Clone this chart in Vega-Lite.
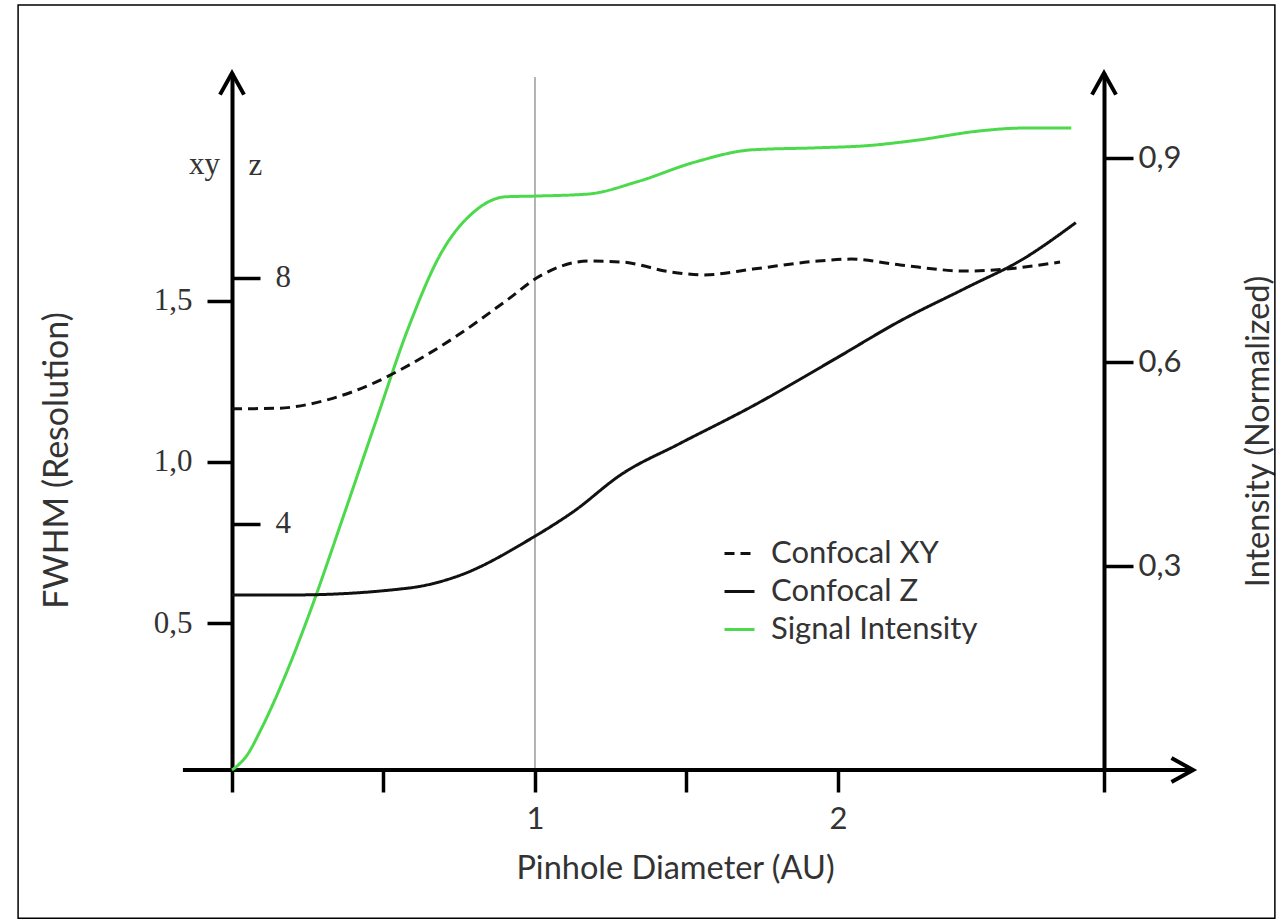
{
  "$schema": "https://vega.github.io/schema/vega-lite/v6.json",
  "width": 872,
  "height": 697,
  "autosize": {"type": "none"},
  "padding": {"left": 232, "top": 73, "right": 179, "bottom": 151},
  "background": "white",
  "config": {"view": {"stroke": null}, "font": "Lato", "axis": {"grid": false}},
  "datasets": {
    "intensity": [
      {"x": 0, "y": 0, "series": "Signal Intensity"},
      {"x": 0.05, "y": 0.022, "series": "Signal Intensity"},
      {"x": 0.096, "y": 0.06, "series": "Signal Intensity"},
      {"x": 0.175, "y": 0.138, "series": "Signal Intensity"},
      {"x": 0.257, "y": 0.232, "series": "Signal Intensity"},
      {"x": 0.366, "y": 0.371, "series": "Signal Intensity"},
      {"x": 0.472, "y": 0.509, "series": "Signal Intensity"},
      {"x": 0.581, "y": 0.649, "series": "Signal Intensity"},
      {"x": 0.69, "y": 0.76, "series": "Signal Intensity"},
      {"x": 0.799, "y": 0.821, "series": "Signal Intensity"},
      {"x": 0.904, "y": 0.843, "series": "Signal Intensity"},
      {"x": 1.0, "y": 0.844, "series": "Signal Intensity"},
      {"x": 1.175, "y": 0.847, "series": "Signal Intensity"},
      {"x": 1.337, "y": 0.865, "series": "Signal Intensity"},
      {"x": 1.528, "y": 0.894, "series": "Signal Intensity"},
      {"x": 1.716, "y": 0.912, "series": "Signal Intensity"},
      {"x": 1.931, "y": 0.915, "series": "Signal Intensity"},
      {"x": 2.092, "y": 0.918, "series": "Signal Intensity"},
      {"x": 2.257, "y": 0.926, "series": "Signal Intensity"},
      {"x": 2.472, "y": 0.94, "series": "Signal Intensity"},
      {"x": 2.607, "y": 0.944, "series": "Signal Intensity"},
      {"x": 2.77, "y": 0.944, "series": "Signal Intensity"}
    ],
    "xy": [
      {"x": 0, "y": 1.165, "series": "Confocal XY"},
      {"x": 0.152, "y": 1.167, "series": "Confocal XY"},
      {"x": 0.314, "y": 1.193, "series": "Confocal XY"},
      {"x": 0.475, "y": 1.248, "series": "Confocal XY"},
      {"x": 0.584, "y": 1.301, "series": "Confocal XY"},
      {"x": 0.746, "y": 1.394, "series": "Confocal XY"},
      {"x": 0.908, "y": 1.503, "series": "Confocal XY"},
      {"x": 1.017, "y": 1.578, "series": "Confocal XY"},
      {"x": 1.178, "y": 1.624, "series": "Confocal XY"},
      {"x": 1.287, "y": 1.621, "series": "Confocal XY"},
      {"x": 1.449, "y": 1.59, "series": "Confocal XY"},
      {"x": 1.558, "y": 1.581, "series": "Confocal XY"},
      {"x": 1.719, "y": 1.599, "series": "Confocal XY"},
      {"x": 1.934, "y": 1.624, "series": "Confocal XY"},
      {"x": 2.043, "y": 1.63, "series": "Confocal XY"},
      {"x": 2.205, "y": 1.612, "series": "Confocal XY"},
      {"x": 2.422, "y": 1.593, "series": "Confocal XY"},
      {"x": 2.584, "y": 1.602, "series": "Confocal XY"},
      {"x": 2.733, "y": 1.621, "series": "Confocal XY"}
    ],
    "z": [
      {"x": 0, "y": 2.846, "series": "Confocal Z"},
      {"x": 0.2, "y": 2.846, "series": "Confocal Z"},
      {"x": 0.584, "y": 2.959, "series": "Confocal Z"},
      {"x": 0.746, "y": 3.154, "series": "Confocal Z"},
      {"x": 0.99, "y": 3.772, "series": "Confocal Z"},
      {"x": 1.125, "y": 4.195, "series": "Confocal Z"},
      {"x": 1.287, "y": 4.813, "series": "Confocal Z"},
      {"x": 1.475, "y": 5.301, "series": "Confocal Z"},
      {"x": 1.719, "y": 5.919, "series": "Confocal Z"},
      {"x": 1.99, "y": 6.683, "series": "Confocal Z"},
      {"x": 2.205, "y": 7.301, "series": "Confocal Z"},
      {"x": 2.422, "y": 7.837, "series": "Confocal Z"},
      {"x": 2.611, "y": 8.309, "series": "Confocal Z"},
      {"x": 2.785, "y": 8.9, "series": "Confocal Z"}
    ]
  },
  "encoding": {
    "x": {
      "field": "x",
      "type": "quantitative",
      "scale": {"domain": [0, 2.878], "nice": false, "zero": false},
      "axis": {
        "orient": "bottom",
        "values": [0, 0.5, 1, 1.5, 2, 2.878],
        "domain": false,
        "ticks": true,
        "tickSize": 22,
        "tickWidth": 3.5,
        "tickColor": "#000",
        "labelExpr": "datum.value == 1 ? '1' : (datum.value == 2 ? '2' : '')",
        "labelOverlap": false,
        "labelFlush": false,
        "labelFont": "Lato",
        "labelFontSize": 31,
        "labelColor": "#333",
        "labelPadding": 12,
        "title": "Pinhole Diameter (AU)",
        "titleFont": "Lato",
        "titleFontSize": 32.5,
        "titleFontWeight": "normal",
        "titleColor": "#333",
        "titleX": 443,
        "titleY": 98,
        "titleAlign": "center",
        "titleBaseline": "middle"
      }
    }
  },
  "layer": [
    {
      "encoding": {
        "y": {
          "field": "y",
          "type": "quantitative",
          "scale": {"domain": [0, 1.025], "nice": false, "zero": false},
          "axis": {
            "orient": "right",
            "values": [0.3, 0.6, 0.9],
            "domain": true,
            "domainWidth": 4,
            "domainColor": "#000",
            "tickSize": 29,
            "tickWidth": 3.5,
            "tickColor": "#000",
            "labelExpr": "replace(format(datum.value, '.1f'), '.', ',')",
            "labelFont": "Lato",
            "labelFontSize": 31,
            "labelColor": "#333",
            "labelPadding": 5,
            "title": "Intensity (Normalized)",
            "titleFont": "Lato",
            "titleFontSize": 32.5,
            "titleFontWeight": "normal",
            "titleColor": "#333",
            "titleAngle": 270,
            "titleX": 154,
            "titleY": 358,
            "titleAlign": "center",
            "titleBaseline": "middle"
          }
        }
      },
      "layer": [
        {
          "data": {"values": [{"x": -0.706, "x2": 3.442, "y": -0.218, "y2": 1.125}]},
          "mark": {"type": "rect", "fillOpacity": 0, "stroke": "#000", "strokeWidth": 1.5},
          "encoding": {"x2": {"field": "x2"}, "y2": {"field": "y2"}}
        },
        {
          "data": {"values": [{"x": 1, "y": 0, "y2": 1.019}]},
          "mark": {"type": "rule", "color": "#9a9a9a", "strokeWidth": 1.5},
          "encoding": {"y2": {"field": "y2"}}
        },
        {
          "data": {"values": [{"x": -0.162, "x2": 3.16, "y": 0}]},
          "mark": {"type": "rule", "color": "#000", "strokeWidth": 4},
          "encoding": {"x2": {"field": "x2"}}
        },
        {
          "data": {"values": [{"x": 0, "y": 1.025}, {"x": 2.878, "y": 1.025}]},
          "mark": {"type": "point", "shape": "M -1 1.8 L 0 0 L 1 1.8", "filled": false, "stroke": "#000", "strokeWidth": 4, "size": 576, "opacity": 1}
        },
        {
          "data": {"values": [{"x": 3.172, "y": 0}]},
          "mark": {"type": "point", "shape": "M -1.8 -1 L 0 0 L -1.8 1", "filled": false, "stroke": "#000", "strokeWidth": 4, "size": 576, "opacity": 1}
        },
        {
          "data": {"name": "intensity"},
          "mark": {"type": "line", "interpolate": "monotone", "strokeWidth": 3},
          "encoding": {
            "color": {
              "field": "series", "type": "nominal",
              "scale": {"domain": ["Confocal XY", "Confocal Z", "Signal Intensity"], "range": ["#111", "#111", "#4cd94c"]},
              "legend": {"orient": "none", "legendX": 491, "legendY": 464, "title": null, "symbolType": "stroke", "symbolSize": 900, "symbolStrokeWidth": 3, "labelFont": "Lato", "labelFontSize": 31, "labelColor": "#333", "labelOffset": 15, "labelLimit": 0, "rowPadding": 6}
            },
            "strokeDash": {
              "field": "series", "type": "nominal",
              "scale": {"domain": ["Confocal XY", "Confocal Z", "Signal Intensity"], "range": [[10, 6], [1, 0], [1, 0]]},
              "legend": {"orient": "none", "legendX": 491, "legendY": 464, "title": null, "symbolType": "stroke", "symbolSize": 900, "symbolStrokeWidth": 3, "labelFont": "Lato", "labelFontSize": 31, "labelColor": "#333", "labelOffset": 15, "labelLimit": 0, "rowPadding": 6}
            }
          }
        }
      ]
    },
    {
      "encoding": {
        "y": {
          "field": "y",
          "type": "quantitative",
          "scale": {"domain": [0.0435, 2.208], "nice": false, "zero": false},
          "axis": {
            "orient": "left",
            "values": [0.5, 1.0, 1.5],
            "domain": true,
            "domainWidth": 4,
            "domainColor": "#000",
            "tickSize": 25,
            "tickWidth": 3.5,
            "tickColor": "#000",
            "labelExpr": "replace(format(datum.value, '.1f'), '.', ',')",
            "labelFont": "Liberation Serif",
            "labelFontSize": 31,
            "labelColor": "#333",
            "labelPadding": 15,
            "title": "FWHM (Resolution)",
            "titleFont": "Lato",
            "titleFontSize": 34,
            "titleFontWeight": "normal",
            "titleColor": "#333",
            "titleAngle": 270,
            "titleX": -175,
            "titleY": 387,
            "titleAlign": "center",
            "titleBaseline": "middle"
          }
        }
      },
      "layer": [
        {
          "data": {"name": "xy"},
          "mark": {"type": "line", "interpolate": "monotone", "strokeWidth": 3},
          "encoding": {
            "color": {"field": "series", "type": "nominal"},
            "strokeDash": {"field": "series", "type": "nominal"}
          }
        },
        {
          "data": {"values": [{"x": 0, "y": 1.922, "label": "xy"}]},
          "mark": {"type": "text", "align": "right", "baseline": "middle", "dx": -12, "font": "Liberation Serif", "fontSize": 31, "color": "#333"},
          "encoding": {"text": {"field": "label"}}
        }
      ]
    },
    {
      "encoding": {
        "y": {
          "field": "y",
          "type": "quantitative",
          "scale": {"domain": [0, 11.333], "nice": false, "zero": false},
          "axis": {
            "orient": "left",
            "values": [4, 8],
            "domain": false,
            "tickSize": -28,
            "tickWidth": 3.5,
            "tickColor": "#000",
            "labelFont": "Liberation Serif",
            "labelFontSize": 31,
            "labelColor": "#333",
            "labelAlign": "left",
            "labelPadding": -15,
            "title": "z",
            "titleFont": "Liberation Serif",
            "titleFontSize": 31,
            "titleFontWeight": "normal",
            "titleColor": "#333",
            "titleAngle": 0,
            "titleX": 16,
            "titleY": 92,
            "titleAlign": "left",
            "titleBaseline": "middle"
          }
        }
      },
      "layer": [
        {
          "data": {"name": "z"},
          "mark": {"type": "line", "interpolate": "monotone", "strokeWidth": 3},
          "encoding": {
            "color": {"field": "series", "type": "nominal"},
            "strokeDash": {"field": "series", "type": "nominal"}
          }
        }
      ]
    }
  ],
  "resolve": {"scale": {"y": "independent"}}
}
